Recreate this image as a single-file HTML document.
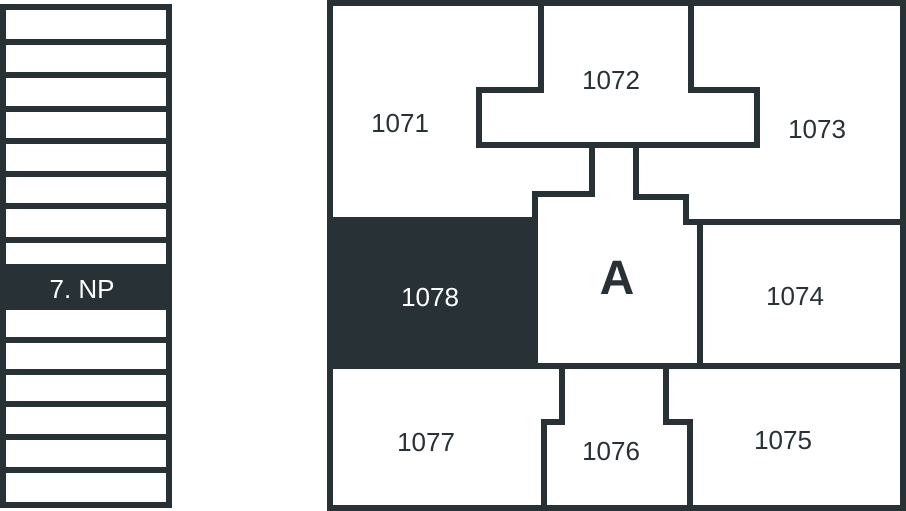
<!DOCTYPE html>
<html><head><style>
html,body{margin:0;padding:0;background:#fff;}
svg{display:block;}
text{font-family:"Liberation Sans",sans-serif;fill:#283136;}
</style></head><body>
<svg width="906" height="511" viewBox="0 0 906 511" xmlns="http://www.w3.org/2000/svg">
<g stroke="#283136" stroke-width="6" fill="none" stroke-linecap="square">
<rect x="3" y="7" width="166" height="498"/>
<path d="M3 42H169M3 75H169M3 109H169M3 141H169M3 174H169M3 206H169M3 240H169M3 340H169M3 372H169M3 404H169M3 437H169M3 470H169"/>
</g>
<rect x="0" y="264" width="172" height="46" fill="#283136"/>
<text x="82" y="298" font-size="26" text-anchor="middle" style="fill:#fff">7. NP</text>

<rect x="330" y="217" width="206" height="150" fill="#283136"/>
<g stroke="#283136" stroke-width="6" fill="none" stroke-linejoin="miter" stroke-linecap="square">
<rect x="330" y="3" width="573" height="505"/>
<path d="M541 3V90H479V145H757V90H691V3"/>
<path d="M592 145V194H535V366"/>
<path d="M330 220H535"/>
<path d="M636 145V197H686V222H903"/>
<path d="M700 222V366"/>
<path d="M330 366H903"/>
<path d="M562 366V422H544V508"/>
<path d="M666 366V422H690V508"/>
</g>
<g font-size="26" text-anchor="middle">
<text x="400" y="132">1071</text>
<text x="611" y="89">1072</text>
<text x="817" y="138">1073</text>
<text x="430" y="306" style="fill:#fff">1078</text>
<text x="617" y="294" font-size="48" font-weight="bold">A</text>
<text x="795" y="305">1074</text>
<text x="426" y="451">1077</text>
<text x="611" y="460">1076</text>
<text x="783" y="449">1075</text>
</g>
</svg>
</body></html>
